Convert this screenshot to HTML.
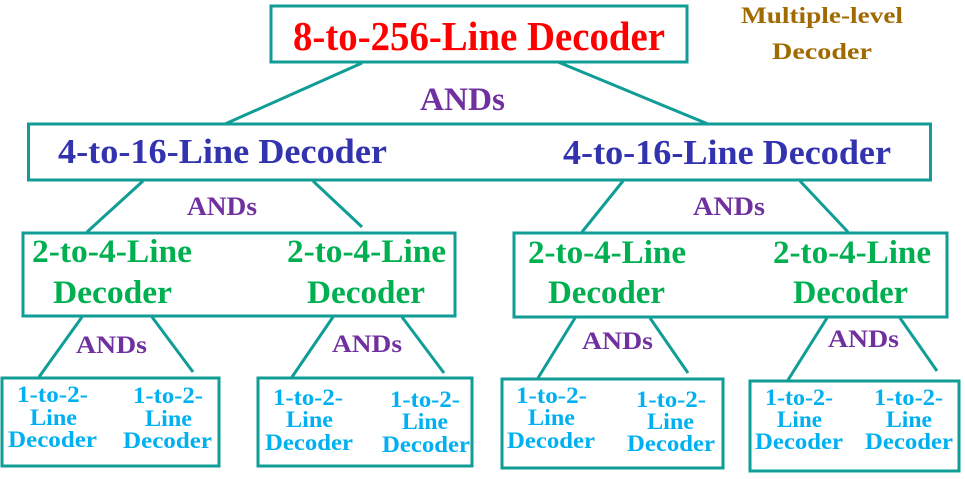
<!DOCTYPE html>
<html><head><meta charset="utf-8"><style>
html,body{margin:0;padding:0;background:#fff;}
svg{display:block;}
text{font-family:"Liberation Serif","Times New Roman",serif;font-weight:bold;}
</style></head><body>
<svg width="965" height="479" viewBox="0 0 965 479" xmlns="http://www.w3.org/2000/svg">
<g fill="none" stroke="#0F9D96" stroke-width="3">
<rect x="271" y="6" width="416" height="56"/>
<rect x="28.5" y="124" width="902" height="56"/>
<rect x="23" y="233" width="432" height="83"/>
<rect x="514" y="233" width="433" height="84"/>
<rect x="2" y="378" width="217" height="88"/>
<rect x="258" y="378" width="214" height="88"/>
<rect x="502" y="379" width="221" height="89"/>
<rect x="750" y="381" width="209" height="90"/>
<line x1="362" y1="63" x2="225" y2="124"/>
<line x1="558" y1="62" x2="708" y2="124"/>
<line x1="143" y1="181" x2="87" y2="232"/>
<line x1="313" y1="181" x2="362" y2="227"/>
<line x1="623" y1="181" x2="582" y2="232"/>
<line x1="800" y1="181" x2="848" y2="232"/>
<line x1="82" y1="317" x2="39" y2="377"/>
<line x1="152" y1="317" x2="193" y2="372"/>
<line x1="333" y1="317" x2="292" y2="377"/>
<line x1="402" y1="317" x2="444" y2="373"/>
<line x1="575" y1="318" x2="538" y2="378"/>
<line x1="650" y1="318" x2="688" y2="373"/>
<line x1="827" y1="318" x2="788" y2="380"/>
<line x1="900" y1="318" x2="937" y2="371"/>
</g>
<g>
<text x="293" y="50" font-size="41" fill="#FF0000" textLength="372" lengthAdjust="spacingAndGlyphs">8-to-256-Line Decoder</text>
<text x="741" y="23" font-size="23" fill="#A06A00" textLength="162" lengthAdjust="spacingAndGlyphs">Multiple-level</text>
<text x="772" y="59" font-size="23" fill="#A06A00" textLength="100" lengthAdjust="spacingAndGlyphs">Decoder</text>
<text x="420" y="110" font-size="33" fill="#7030A0" textLength="85" lengthAdjust="spacingAndGlyphs">ANDs</text>
<text x="58" y="163" font-size="35" fill="#3333B0" textLength="329" lengthAdjust="spacingAndGlyphs">4-to-16-Line Decoder</text>
<text x="563" y="164" font-size="35" fill="#3333B0" textLength="328" lengthAdjust="spacingAndGlyphs">4-to-16-Line Decoder</text>
<text x="187" y="215" font-size="26" fill="#7030A0" textLength="70" lengthAdjust="spacingAndGlyphs">ANDs</text>
<text x="693" y="215" font-size="26" fill="#7030A0" textLength="72" lengthAdjust="spacingAndGlyphs">ANDs</text>
<g fill="#00B050" font-size="33">
<text x="32" y="262" textLength="160" lengthAdjust="spacingAndGlyphs">2-to-4-Line</text>
<text x="53" y="303" textLength="119" lengthAdjust="spacingAndGlyphs">Decoder</text>
<text x="287" y="262" textLength="159" lengthAdjust="spacingAndGlyphs">2-to-4-Line</text>
<text x="307" y="303" textLength="118" lengthAdjust="spacingAndGlyphs">Decoder</text>
<text x="528" y="263" textLength="158" lengthAdjust="spacingAndGlyphs">2-to-4-Line</text>
<text x="548" y="303" textLength="117" lengthAdjust="spacingAndGlyphs">Decoder</text>
<text x="773" y="263" textLength="158" lengthAdjust="spacingAndGlyphs">2-to-4-Line</text>
<text x="793" y="303" textLength="115" lengthAdjust="spacingAndGlyphs">Decoder</text>
</g>
<g fill="#7030A0" font-size="25">
<text x="76" y="353" textLength="71" lengthAdjust="spacingAndGlyphs">ANDs</text>
<text x="332" y="352" textLength="70" lengthAdjust="spacingAndGlyphs">ANDs</text>
<text x="582" y="349" textLength="71" lengthAdjust="spacingAndGlyphs">ANDs</text>
<text x="828" y="347" textLength="71" lengthAdjust="spacingAndGlyphs">ANDs</text>
</g>
<g fill="#00B0F0" font-size="23">
<text x="17" y="402" textLength="71" lengthAdjust="spacingAndGlyphs">1-to-2-</text>
<text x="30" y="425" textLength="47" lengthAdjust="spacingAndGlyphs">Line</text>
<text x="8" y="447" textLength="89" lengthAdjust="spacingAndGlyphs">Decoder</text>
<text x="133" y="403" textLength="70" lengthAdjust="spacingAndGlyphs">1-to-2-</text>
<text x="145" y="426" textLength="47" lengthAdjust="spacingAndGlyphs">Line</text>
<text x="123" y="448" textLength="89" lengthAdjust="spacingAndGlyphs">Decoder</text>

<text x="273" y="405" textLength="70" lengthAdjust="spacingAndGlyphs">1-to-2-</text>
<text x="286" y="427" textLength="47" lengthAdjust="spacingAndGlyphs">Line</text>
<text x="265" y="450" textLength="88" lengthAdjust="spacingAndGlyphs">Decoder</text>
<text x="390" y="407" textLength="70" lengthAdjust="spacingAndGlyphs">1-to-2-</text>
<text x="402" y="429" textLength="46" lengthAdjust="spacingAndGlyphs">Line</text>
<text x="382" y="452" textLength="88" lengthAdjust="spacingAndGlyphs">Decoder</text>

<text x="516" y="403" textLength="71" lengthAdjust="spacingAndGlyphs">1-to-2-</text>
<text x="528" y="425" textLength="47" lengthAdjust="spacingAndGlyphs">Line</text>
<text x="507" y="448" textLength="88" lengthAdjust="spacingAndGlyphs">Decoder</text>
<text x="636" y="407" textLength="70" lengthAdjust="spacingAndGlyphs">1-to-2-</text>
<text x="647" y="429" textLength="47" lengthAdjust="spacingAndGlyphs">Line</text>
<text x="627" y="451" textLength="88" lengthAdjust="spacingAndGlyphs">Decoder</text>

<text x="765" y="405" textLength="68" lengthAdjust="spacingAndGlyphs">1-to-2-</text>
<text x="777" y="427" textLength="45" lengthAdjust="spacingAndGlyphs">Line</text>
<text x="755" y="449" textLength="88" lengthAdjust="spacingAndGlyphs">Decoder</text>
<text x="874" y="405" textLength="69" lengthAdjust="spacingAndGlyphs">1-to-2-</text>
<text x="886" y="427" textLength="46" lengthAdjust="spacingAndGlyphs">Line</text>
<text x="865" y="449" textLength="88" lengthAdjust="spacingAndGlyphs">Decoder</text>
</g>
</g>
</svg>
</body></html>
